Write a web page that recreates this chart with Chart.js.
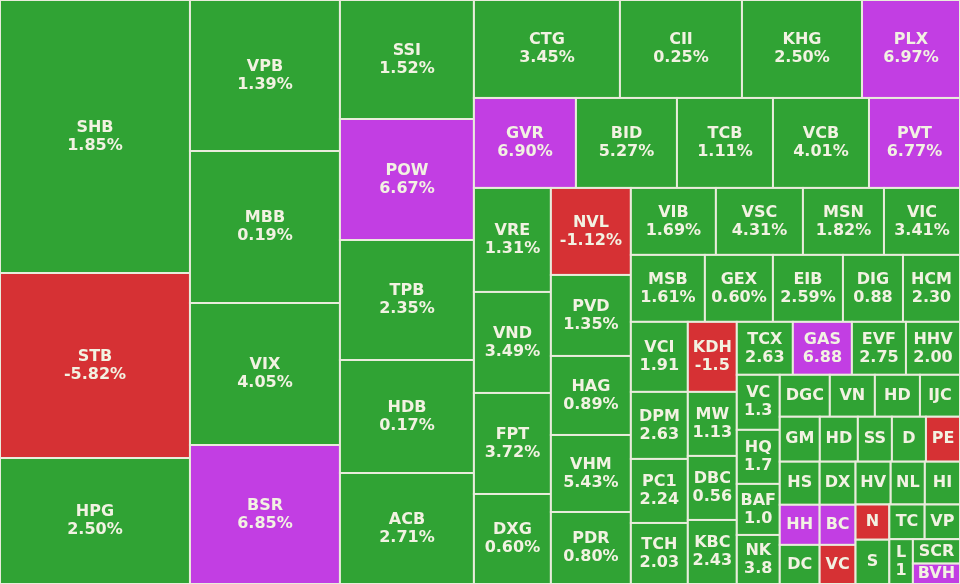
<!DOCTYPE html>
<html>
<head>
<meta charset="utf-8">
<script src="https://cdn.jsdelivr.net/npm/chart.js@4"></script>
<style>
  html, body { margin: 0; padding: 0; background: #eeeedd; }
  #wrap { width: 960px; height: 584px; }
</style>
</head>
<body>
<div id="wrap"><canvas id="tree" width="960" height="584"></canvas></div>
<script>
// tickers, in layout order
const tickers = [
  'SHB','STB','HPG',
  'VPB','MBB','VIX','BSR',
  'SSI','POW','TPB','HDB','ACB',
  'CTG','CII','KHG','PLX',
  'GVR','BID','TCB','VCB','PVT',
  'VRE','VND','FPT','DXG',
  'NVL','PVD','HAG','VHM','PDR',
  'VIB','VSC','MSN','VIC',
  'MSB','GEX','EIB','DIG','HCM',
  'VCI','DPM','PC1','TCH',
  'KDH','MW','DBC','KBC',
  'TCX','GAS','EVF','HHV',
  'VC','HQ','BAF','NK',
  'DGC','VN','HD','IJC',
  'GM','HD','SS','D','PE',
  'HS','HH','DC',
  'DX','BC','VC',
  'HV','NL','HI',
  'N','S',
  'TC','VP',
  'L',
  'SCR','BVH'
];
// cell weights (trading value, estimated from areas)
const weights = [
  51870,35150,23940,
  22650,22800,21300,20850,
  15946,16214,16080,15142,14874,
  14308,11956,11760,9604,
  9180,9090,8640,8640,8190,
  8008,7777,7777,6930,
  6960,6480,6320,6160,5760,
  5695,5829,5427,5092,
  4958,4556,4690,4020,3819,
  3990,3819,3648,3477,
  3430,3136,3136,3136,
  2968,3127,2862,2862,
  2365,2322,2193,2107,
  2100,1890,1890,1680,
  1800,1710,1530,1530,1530,
  1720,1600,1560,
  1548,1440,1404,
  1505,1462,1505,
  1190,1496,
  1225,1225,
  1056,
  1152,960
];
// price change (%), small cells estimated from colour
const changes = [
  1.85,-5.82,2.50,
  1.39,0.19,4.05,6.85,
  1.52,6.67,2.35,0.17,2.71,
  3.45,0.25,2.50,6.97,
  6.90,5.27,1.11,4.01,6.77,
  1.31,3.49,3.72,0.60,
  -1.12,1.35,0.89,5.43,0.80,
  1.69,4.31,1.82,3.41,
  1.61,0.60,2.59,0.88,2.30,
  1.91,2.63,2.24,2.03,
  -1.5,1.13,0.56,2.43,
  2.63,6.88,2.75,2.00,
  1.3,1.7,1.0,3.8,
  1,1,1,1,
  1,1,1,1,-1,
  1,6.9,1,
  1,6.9,-1,
  1,1,1,
  -1,1,
  1,1,
  1,
  1,6.9
];
// change text as printed in each cell
const changeText = [
  '1.85%','-5.82%','2.50%',
  '1.39%','0.19%','4.05%','6.85%',
  '1.52%','6.67%','2.35%','0.17%','2.71%',
  '3.45%','0.25%','2.50%','6.97%',
  '6.90%','5.27%','1.11%','4.01%','6.77%',
  '1.31%','3.49%','3.72%','0.60%',
  '-1.12%','1.35%','0.89%','5.43%','0.80%',
  '1.69%','4.31%','1.82%','3.41%',
  '1.61%','0.60%','2.59%','0.88','2.30',
  '1.91','2.63','2.24','2.03',
  '-1.5','1.13','0.56','2.43',
  '2.63','6.88','2.75','2.00',
  '1.3','1.7','1.0','3.8',
  '','','','',
  '','','','','',
  '','','',
  '','','',
  '','','',
  '','',
  '','',
  '1',
  '',''
];
// how many cells go into each strip of the treemap, and which way it runs
const stripSizes = [3,4,5,4,5,4,5,4,5,4,4,4,4,4,5,3,3,3,2,2,1,2];
const stripRuns  = ['col','col','col','row','row','col','col','row','row','col','col',
                    'row','col','row','row','col','col','row','col','row','col','col'];

const W = 960, H = 584;

function cellColor(c) {
  if (c >= 6.5) return '#c23ee3';
  if (c < 0) return '#d63134';
  return '#30a334';
}

// strip layout driven by the weights
function layoutCells() {
  const total = weights.reduce((a, b) => a + b, 0);
  const k = (W * H) / total;
  let x = 0, y = 0, w = W, h = H, i = 0;
  const out = [];
  stripSizes.forEach((n, s) => {
    const part = weights.slice(i, i + n);
    const sum = part.reduce((a, b) => a + b, 0) * k;
    if (stripRuns[s] === 'row') {
      const sh = sum / w;
      let cx = x;
      part.forEach(v => {
        const cw = v * k / sh;
        out.push({ x: cx, y: y, w: cw, h: sh });
        cx += cw;
      });
      y += sh; h -= sh;
    } else {
      const sw = sum / h;
      let cy = y;
      part.forEach(v => {
        const ch = v * k / sw;
        out.push({ x: x, y: cy, w: sw, h: ch });
        cy += ch;
      });
      x += sw; w -= sw;
    }
    i += n;
  });
  return out;
}

const cells = layoutCells();

const treemapPlugin = {
  id: 'treemapCells',
  afterDatasetsDraw(chart) {
    const { ctx, scales } = chart;
    const sx = scales.x, sy = scales.y;
    ctx.save();
    cells.forEach((c, i) => {
      const x0 = sx.getPixelForValue(c.x), x1 = sx.getPixelForValue(c.x + c.w);
      const y0 = sy.getPixelForValue(c.y), y1 = sy.getPixelForValue(c.y + c.h);
      ctx.fillStyle = cellColor(changes[i]);
      ctx.fillRect(x0, y0, x1 - x0, y1 - y0);
      ctx.strokeStyle = '#e9ecdc';
      ctx.lineWidth = 2;
      ctx.strokeRect(x0, y0, x1 - x0, y1 - y0);

      const cx = (x0 + x1) / 2, cy = (y0 + y1) / 2;
      ctx.fillStyle = '#f2f2e2';
      ctx.font = 'bold 16px "DejaVu Sans", Verdana, sans-serif';
      ctx.textAlign = 'center';
      ctx.textBaseline = 'middle';
      if (changeText[i]) {
        ctx.fillText(tickers[i], cx, cy - 9);
        ctx.fillText(changeText[i], cx, cy + 9);
      } else {
        ctx.fillText(tickers[i], cx, cy);
      }
    });
    ctx.restore();
  }
};

new Chart(document.getElementById('tree'), {
  type: 'scatter',
  data: {
    datasets: [{
      label: 'Thanh khoản',
      data: cells.map(c => ({ x: c.x + c.w / 2, y: c.y + c.h / 2 })),
      pointRadius: 0
    }]
  },
  options: {
    responsive: false,
    animation: false,
    layout: { padding: 0 },
    scales: {
      x: { type: 'linear', min: 0, max: W, display: false },
      y: { type: 'linear', min: 0, max: H, reverse: true, display: false }
    },
    plugins: { legend: { display: false }, tooltip: { enabled: false } }
  },
  plugins: [treemapPlugin]
});
</script>
</body>
</html>
